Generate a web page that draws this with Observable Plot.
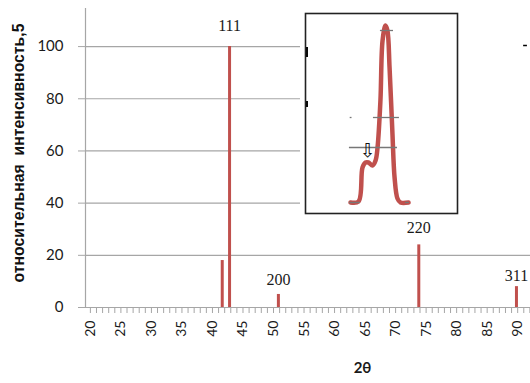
<!DOCTYPE html>
<html><head><meta charset="utf-8">
<script src="https://cdn.jsdelivr.net/npm/d3@7"></script>
<script src="https://cdn.jsdelivr.net/npm/@observablehq/plot@0.6"></script>
<style>
body{margin:0;background:#fff;}
#wrap{position:relative;width:530px;height:383px;overflow:hidden;background:#fff;}
#wrap svg{position:absolute;}
</style>
</head><body><div id="wrap"></div>
<script>
// Main diffraction pattern
const peakAngle = [41.6, 42.8, 50.8, 73.8, 89.8];
const peakIntensity = [18, 100, 5, 24, 8];
const hklLabels = ["111", "200", "220", "311"];
const hklAngle = [42.8, 50.8, 73.8, 89.8];
const hklLabelY = [108, 10.5, 30.5, 12];
const yTicks = [0, 20, 40, 60, 80, 100];
const xTicks = d3.range(20, 95, 5);
const xMinorTicks = d3.range(20, 93, 1);
const yTitle = "относительная  интенсивность,5";
const xTitle = "2θ";

// Inset (zoomed 111 profile), arbitrary inset units 0–100
const insetU = [29.6, 34.9, 37.5, 39.5, 41.4, 44.1, 46.1, 47.4, 49.3, 50.7, 52.6, 53.9, 55.3, 57.2, 58.6, 60.5, 62.5, 67.8];
const insetV = [5.5, 6, 23, 25.5, 25.5, 24, 26.5, 33, 56.5, 86.5, 94, 91.5, 73, 40, 18, 7.5, 5.5, 5.5];
const segV  = [91.5, 48, 33, 48, 5.5, 5.5];
const segU1 = [49.3, 44.7, 28.9, 29.4, 28.9, 65.8];
const segU2 = [57.9, 61.8, 60.5, 30.6, 36.2, 68.4];
const markerArrow = "⇩";
const arrowU = [40.8], arrowV = [31.5];

const bars = peakAngle.map((a, i) => ({a, v: peakIntensity[i]}));
const labels = hklLabels.map((t, i) => ({t, a: hklAngle[i], y: hklLabelY[i]}));
const grid = "#a6a6a6";
const red = "#c0504d";
const tickFont = "Lato, 'Open Sans', sans-serif";

const main = Plot.plot({
  width: 530, height: 383,
  marginLeft: 85, marginRight: 0, marginTop: 8, marginBottom: 76,
  x: {domain: [19.2, 92.1]},
  y: {domain: [0, 114.6]},
  style: {background: "transparent", overflow: "visible"},
  marks: [
    Plot.ruleY(yTicks.filter(d => d > 0), {stroke: grid, strokeWidth: 1.2}),
    Plot.ruleY([0], {stroke: grid, strokeWidth: 1.2}),
    Plot.ruleX([19.2], {stroke: grid, strokeWidth: 1.2}),
    Plot.axisY(yTicks, {tickSize: 7, tickPadding: 15, stroke: grid, fill: "#1a1a1a", fontSize: 15, fontFamily: tickFont, label: null}),
    Plot.axisY([], {label: yTitle, labelAnchor: "center", labelArrow: "none", labelOffset: 73, fontWeight: "bold", fontSize: 15.8, fontFamily: "'Liberation Sans', Arial, sans-serif", fill: "#111"}),
    Plot.axisX(xMinorTicks, {tickSize: 6, stroke: grid, tickFormat: () => "", label: null}),
    Plot.axisX(xTicks, {tickSize: 0, tickPadding: 13, tickRotate: -90, fill: "#1a1a1a", fontSize: 14, fontFamily: tickFont, label: null}),
    Plot.ruleX(bars, {x: "a", y1: 0, y2: "v", stroke: red, strokeWidth: 3}),
    Plot.text(labels, {x: "a", y: "y", text: "t", fontFamily: "'Liberation Serif', serif", fontSize: 16, fill: "#1a1a1a"}),
    Plot.text([xTitle], {frameAnchor: "bottom", dx: 54.5, dy: 65, fontWeight: "bold", fontSize: 15, fontFamily: tickFont, fill: "#1a1a1a"})
  ]
});
main.style.left = "0px"; main.style.top = "0px";
for (const t of main.querySelectorAll("text")) {
  if (t.textContent === yTitle) {
    t.setAttribute("transform", "translate(0,-5) " + (t.getAttribute("transform") || ""));
  }
}

const curve = insetU.map((u, i) => ({u, v: insetV[i]}));
const segs = segV.map((v, i) => ({v, u1: segU1[i], u2: segU2[i]}));

const inset = Plot.plot({
  width: 230, height: 216,
  marginLeft: 5, marginRight: 73, marginTop: 13, marginBottom: 3,
  x: {domain: [0, 100], axis: null},
  y: {domain: [0, 100], axis: null},
  style: {background: "#fff", overflow: "visible"},
  marks: [
    Plot.line(curve, {x: "u", y: "v", curve: "catmull-rom", stroke: red, strokeWidth: 4.5, strokeLinejoin: "round", strokeLinecap: "round"}),
    Plot.ruleY(segs, {y: "v", x1: "u1", x2: "u2", stroke: "#777", strokeWidth: 1.3}),
    Plot.text([markerArrow], {x: arrowU, y: arrowV, fontSize: 19, fill: "#111", fontFamily: "'DejaVu Sans', sans-serif"}),
    Plot.ruleX([0.8], {y1: 78, y2: 83, stroke: "#000", strokeWidth: 2.5}),
    Plot.ruleX([0.8], {y1: 53, y2: 56, stroke: "#000", strokeWidth: 2.5}),
    Plot.ruleY([84], {x1: 143.5, x2: 146, stroke: "#000", strokeWidth: 1.5}),
    Plot.frame({stroke: "#222", strokeWidth: 1.6})
  ]
});
inset.style.left = "300px"; inset.style.top = "0px";

const wrap = document.getElementById("wrap");
wrap.append(main, inset);
</script>
</body></html>
